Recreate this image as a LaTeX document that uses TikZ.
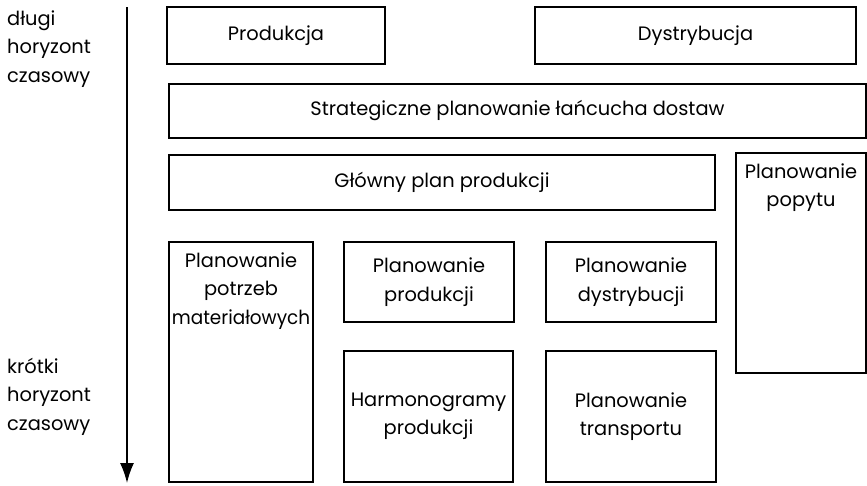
\documentclass[tikz,border=0pt]{standalone}
\usepackage{fontspec}
\setmainfont{Poppins}
\usetikzlibrary{arrows.meta}
\begin{document}
\begin{tikzpicture}[x=1pt,y=-1pt,
  txt/.style={font=\fontsize{19.4}{28.5}\selectfont},
  box/.style={draw, line width=1.1pt, inner sep=0pt, align=center, txt},
  lbl/.style={align=left, inner sep=0pt, txt, anchor=base west},
  toptxt/.style={align=center, inner sep=0pt, txt, anchor=base}]
\useasboundingbox (0,0) rectangle (867,485);
\newcommand\mybox[6]{%
  \node[box, minimum width={(#4)-(#2)}, minimum height={(#5)-(#3)}] (#1) at ({((#2)+(#4))/2},{((#3)+(#5))/2}) {#6};}
\mybox{prod}{167}{7}{385}{64}{Produkcja}
\mybox{dyst}{535}{7}{856}{64}{Dystrybucja}
\mybox{strat}{169}{84}{866}{138}{Strategiczne planowanie łańcucha dostaw}
\mybox{glow}{169}{155}{715}{210}{Główny plan produkcji}
\mybox{popyt}{736}{153}{866}{373}{}
\node[toptxt] (popytt) at ([yshift=-54.5pt]popyt.north) {Planowanie\\popytu};
\mybox{mrp}{169}{242}{313}{482}{}
\node[toptxt] (mrpt) at ([yshift=-83pt]mrp.north) {Planowanie\\potrzeb\\\scalebox{0.95}[1]{materiałowych}};
\mybox{pp}{344}{242}{514}{322}{Planowanie\\produkcji}
\mybox{pd}{546}{242}{716}{322}{Planowanie\\dystrybucji}
\mybox{harm}{344}{351}{513}{482}{Harmonogramy\\produkcji}
\mybox{tran}{546}{351}{716}{482}{Planowanie\\transportu}
\coordinate (atop) at (127,7);
\coordinate (abot) at (127,483);
\draw[line width=1.6pt, -{Latex[length=20pt,width=14pt]}] (atop) -- (abot);
\node[lbl] (dl) at (7,82) {długi\\horyzont\\czasowy};
\node[lbl] (kr) at (7,430) {krótki\\horyzont\\czasowy};
\end{tikzpicture}
\end{document}
